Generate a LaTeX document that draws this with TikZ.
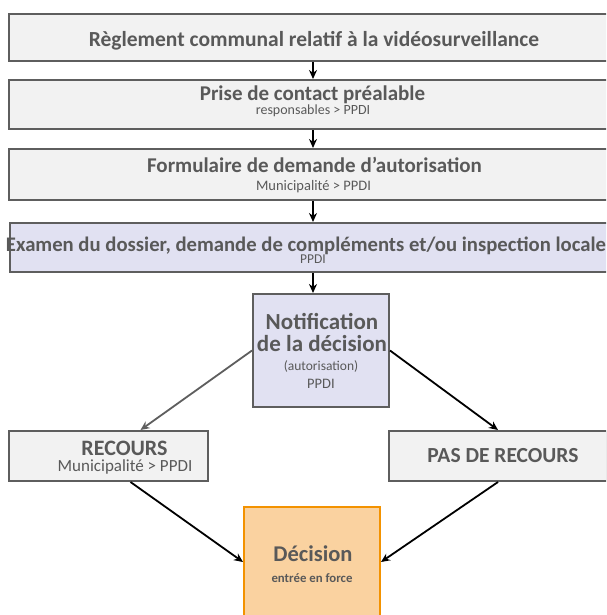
\documentclass[tikz,border=0pt]{standalone}
\usepackage{fontspec}
\setmainfont{Carlito}
\usetikzlibrary{arrows.meta,calc}
\definecolor{txt}{HTML}{595959}
\definecolor{bord}{HTML}{5E5E5E}
\definecolor{grayfill}{HTML}{F2F2F2}
\definecolor{lavfill}{HTML}{E1E1F2}
\definecolor{orfill}{HTML}{FAD2A0}
\definecolor{orbord}{HTML}{F39200}
\begin{document}
\begin{tikzpicture}[x=1pt,y=-1pt,
  box/.style={draw=bord, line width=2pt, fill=grayfill, inner sep=0pt},
  lav/.style={box, fill=lavfill},
  dec/.style={box, draw=orbord, fill=orfill},
  lbl/.style={text=txt, inner sep=0pt, anchor=base},
  arr/.style={line width=1.8pt, -{Stealth[length=9pt,width=8pt]}},
  garr/.style={arr, draw=bord}
]
\clip (0,0) rectangle (606,615);
\fill[white] (0,0) rectangle (606,615);

% boxes
\node[box, minimum width=608pt, minimum height=47pt] (b1) at (313,37.5) {};
\node[box, minimum width=608pt, minimum height=49pt] (b2) at (313,104.5) {};
\node[box, minimum width=608pt, minimum height=51pt] (b3) at (313,174.5) {};
\node[lav, minimum width=606pt, minimum height=49pt] (b4) at (313,247.5) {};
\node[lav, minimum width=136pt, minimum height=113pt] (notif) at (321,350.5) {};
\node[box, minimum width=199pt, minimum height=50pt] (rec) at (108.5,456) {};
\node[box, minimum width=218pt, minimum height=50pt] (pas) at (498,456) {};
\node[dec, minimum width=136pt, minimum height=118pt] (dec) at (312,566) {};

% texts
\node[lbl] (t1) at (314,47) {\fontsize{21.5}{24}\selectfont\bfseries Règlement communal relatif à la vidéosurveillance};
\node[lbl] (t2a) at (312.5,100.5) {\fontsize{21}{24}\selectfont\bfseries Prise de contact préalable};
\node[lbl] (t2b) at (313,114.5) {\fontsize{14}{16}\selectfont responsables > PPDI};
\node[lbl] (t3a) at (314.5,172) {\fontsize{21}{24}\selectfont\bfseries Formulaire de demande d’autorisation};
\node[lbl] (t3b) at (313.5,190) {\fontsize{14.5}{16}\selectfont Municipalité > PPDI};
\node[lbl] (t4a) at (306,251) {\fontsize{20.7}{24}\selectfont\bfseries Examen du dossier, demande de compléments et/ou inspection locale};
\node[lbl] (t4b) at (313,263) {\fontsize{13.5}{16}\selectfont PPDI};
\node[lbl] (t5a) at (322,329) {\fontsize{23}{26}\selectfont\bfseries Notification};
\node[lbl] (t5b) at (322,351) {\fontsize{23}{26}\selectfont\bfseries de la décision};
\node[lbl] (t5c) at (321,370) {\fontsize{13.5}{16}\selectfont (autorisation)};
\node[lbl] (t5d) at (321,388) {\fontsize{14.5}{16}\selectfont PPDI};
\node[lbl] (t6a) at (124.5,455) {\fontsize{22}{24}\selectfont\bfseries RECOURS};
\node[lbl] (t6b) at (125,471) {\fontsize{17}{19}\selectfont Municipalité > PPDI};
\node[lbl] (t7) at (503,462) {\fontsize{21.5}{24}\selectfont\bfseries PAS DE RECOURS};
\node[lbl] (t8a) at (313,561) {\fontsize{22.5}{26}\selectfont\bfseries Décision};
\node[lbl] (t8b) at (312,582) {\fontsize{12.8}{15}\selectfont\bfseries entrée en force};

% connectors
\draw[arr] (b1.south) -- (b2.north);
\draw[arr] (b2.south) -- (b3.north);
\draw[arr] (b3.south) -- (b4.north);
\draw[arr] (b4.south) -- (b4.south |- notif.north);
\draw[garr] (notif.west) -- ($(rec.north)+(32,0)$);
\draw[arr] (notif.east) -- (pas.north);
\draw[arr] ($(rec.south)+(22,0)$) -- ($(dec.west)+(0,-4)$);
\draw[arr] (pas.south) -- ($(dec.east)+(0,-4)$);
\end{tikzpicture}
\end{document}
